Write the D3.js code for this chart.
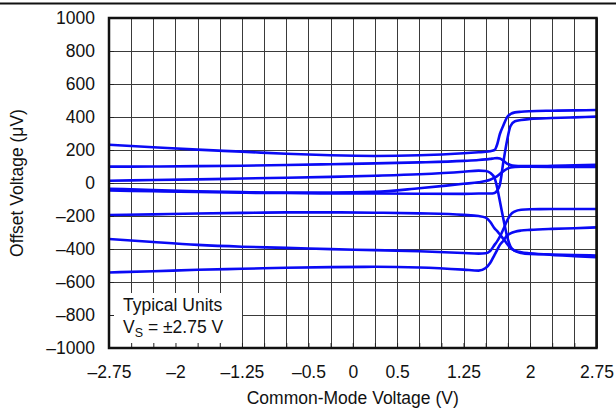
<!DOCTYPE html>
<html>
<head>
<meta charset="utf-8">
<script src="https://cdn.jsdelivr.net/npm/d3@7"></script>
<style>
  html, body { margin: 0; padding: 0; background: #fff; }
  svg { display: block; }
  text { font-family: "Liberation Sans", Arial, Helvetica, sans-serif; fill: #111; }
</style>
</head>
<body>
<svg id="chart" width="616" height="409"></svg>
<script>
// Common-mode voltage sample points (V)
const cmVoltage = [-2.75, -2.25, -1.75, -1.25, -0.75, -0.25, 0.25, 0.75, 1.25, 1.42, 1.5, 1.55, 1.6, 1.63, 1.66, 1.7, 1.74, 1.78, 1.83, 1.9, 2.0, 2.25, 2.5, 2.75];

// Offset voltage of each typical unit (µV)
const unit1 = [232, 217, 202, 190, 177, 168, 164, 168, 180, 186, 189, 193, 200, 235, 297, 350, 398, 418, 428, 432, 435, 438, 440, 442];
const unit2 = [99, 100, 102, 105, 109, 114, 119, 125, 134, 139, 143, 146, 150, 151, 148, 135, 118, 109, 104, 102, 102, 104, 107, 110];
const unit3 = [14, 18, 22, 27, 32, 37, 44, 53, 68, 75, 73, 62, 30, -30, -110, -220, -320, -385, -412, -424, -430, -433, -436, -440];
const unit4 = [-35, -42, -50, -55, -58, -58, -54, -32, -5, 4, 12, 20, 32, 42, 55, 72, 86, 94, 98, 99, 99, 98, 98, 98];
const unit5 = [-45, -50, -55, -59, -61, -63, -64, -65, -66, -64, -64, -64, -60, -45, -10, 130, 255, 345, 374, 382, 388, 394, 398, 402];
const unit6 = [-194, -190, -185, -181, -178, -178, -180, -184, -193, -200, -210, -235, -275, -292, -312, -339, -368, -395, -410, -420, -426, -436, -443, -450];
const unit7 = [-339, -358, -375, -386, -393, -401, -407, -414, -424, -428, -426, -412, -375, -352, -325, -279, -230, -192, -172, -162, -159, -158, -158, -158];
const unit8 = [-542, -535, -526, -520, -514, -510, -508, -512, -525, -531, -515, -485, -435, -405, -375, -350, -318, -305, -295, -288, -284, -278, -274, -269];
const units = [unit1, unit2, unit3, unit4, unit5, unit6, unit7, unit8];

// Axis ticks
const xTickLabels = [-2.75, -2, -1.25, -0.5, 0, 0.5, 1.25, 2, 2.75];
const yTickLabels = [-1000, -800, -600, -400, -200, 0, 200, 400, 600, 800, 1000];
const xGridStep = 0.25;

const svg = d3.select("#chart");
const L = 109, R = 596.5, T = 18, B = 348;
const x = d3.scaleLinear().domain([-2.75, 2.75]).range([L, R]);
const y = d3.scaleLinear().domain([-1000, 1000]).range([B, T]);
const gridX = d3.range(-2.75, 2.75 + 1e-9, xGridStep);

const fmt = v => (v < 0 ? "\u2013" + Math.abs(v) : String(v));

// top rule
svg.append("line").attr("x1", 0).attr("x2", 616).attr("y1", 3.5).attr("y2", 3.5)
  .attr("stroke", "#111").attr("stroke-width", 2);

// grid
const grid = svg.append("g").attr("stroke", "#3a3a3a").attr("stroke-width", 1);
grid.selectAll("line.v").data(gridX).join("line").attr("class", "v")
  .attr("x1", d => Math.round(x(d)) + 0.5).attr("x2", d => Math.round(x(d)) + 0.5)
  .attr("y1", T).attr("y2", B);
grid.selectAll("line.h").data(yTickLabels).join("line").attr("class", "h")
  .attr("x1", L).attr("x2", R)
  .attr("y1", d => Math.round(y(d)) + 0.5).attr("y2", d => Math.round(y(d)) + 0.5);

// curves
svg.append("clipPath").attr("id", "clip").append("rect")
  .attr("x", L).attr("y", T).attr("width", R - L).attr("height", B - T);
const line = d3.line().x((d, i) => x(cmVoltage[i])).y(d => y(d)).curve(d3.curveMonotoneX);
svg.append("g").attr("clip-path", "url(#clip)")
  .selectAll("path").data(units).join("path")
  .attr("d", line).attr("fill", "none").attr("stroke", "#0a0af5")
  .attr("stroke-width", 2.6).attr("stroke-linejoin", "round");

// legend box
svg.append("rect").attr("x", L + 2).attr("y", 293).attr("width", 131).attr("height", B - 293)
  .attr("fill", "#fff");
const lg = svg.append("g").attr("font-size", 17.5);
lg.append("text").attr("x", 123).attr("y", 311).text("Typical Units");
const t2 = lg.append("text").attr("x", 123).attr("y", 333);
t2.append("tspan").text("V");
t2.append("tspan").attr("font-size", 12.5).attr("dy", 4).text("S");
t2.append("tspan").attr("dy", -4).text(" = \u00B12.75 V");

// axes (inner ticks + labels)
const xAxis = d3.axisBottom(x).tickValues(gridX).tickSize(-5).tickPadding(17.5)
  .tickFormat(d => xTickLabels.some(t => Math.abs(t - d) < 1e-9) ? fmt(d) : "");
const gx = svg.append("g").attr("transform", `translate(0,${B})`).call(xAxis);
const yAxis = d3.axisLeft(y).tickValues(yTickLabels).tickSize(-5).tickPadding(14).tickFormat(fmt);
const gy = svg.append("g").attr("transform", `translate(${L},0)`).call(yAxis);
[gx, gy].forEach(g => {
  g.select(".domain").remove();
  g.selectAll(".tick line").attr("stroke", "#222");
  g.selectAll(".tick text").attr("font-size", 17.5).attr("fill", "#111")
    .attr("font-family", "'Liberation Sans', Arial, Helvetica, sans-serif");
});

// frame
svg.append("rect").attr("x", L).attr("y", T).attr("width", R - L).attr("height", B - T)
  .attr("fill", "none").attr("stroke", "#111").attr("stroke-width", 2.5);

// axis titles
svg.append("text").attr("x", (L + R) / 2).attr("y", 404).attr("text-anchor", "middle")
  .attr("font-size", 17.5).text("Common-Mode Voltage (V)");
svg.append("text").attr("transform", `translate(23,${(T + B) / 2}) rotate(-90)`)
  .attr("text-anchor", "middle").attr("font-size", 17.5).text("Offset Voltage (\u03BCV)");
</script>
</body>
</html>
